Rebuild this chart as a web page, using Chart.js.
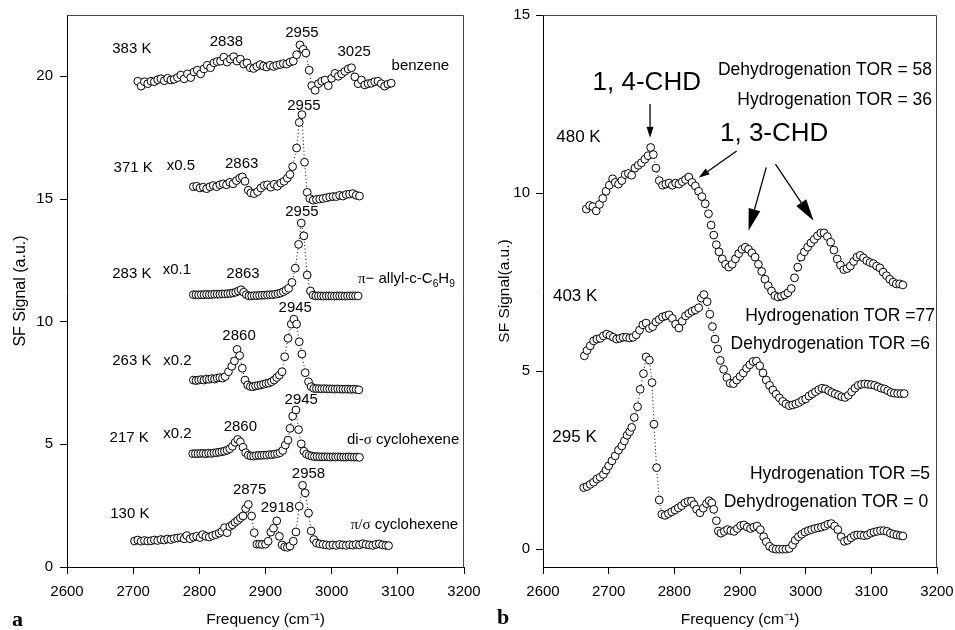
<!DOCTYPE html>
<html><head><meta charset="utf-8">
<script src="https://cdn.jsdelivr.net/npm/chart.js@4.4.0/dist/chart.umd.min.js"></script>
<style>
html,body{margin:0;padding:0;background:#fff;width:955px;height:630px;overflow:hidden;position:relative}
#ca{position:absolute;left:0;top:0}
#cb{position:absolute;left:480px;top:0}
.lbl{position:absolute;font-family:"Liberation Serif","Times New Roman",serif;font-weight:bold;font-size:22px;line-height:22px;color:#000}
</style></head><body>
<canvas id="ca" width="480" height="630"></canvas>
<canvas id="cb" width="475" height="630"></canvas>
<div class="lbl" style="left:12px;top:608px">a</div>
<div class="lbl" style="left:497px;top:606px">b</div>
<script>
// ---------- Panel a data (frequency cm-1, SF signal a.u.) ----------
const f383 = [2707,2712,2717,2722,2727,2732,2737,2742,2747,2752,
  2757,2762,2767,2772,2777,2782,2787,2792,2797,2802,
  2807,2812,2817,2822,2827,2832,2837,2842,2847,2852,
  2857,2862,2867,2872,2877,2882,2887,2892,2897,2902,
  2907,2912,2917,2922,2927,2932,2937,2942,2947,2952,
  2957,2961,2966,2970,2975,2980,2985,2990,2995,3000,
  3005,3010,3015,3020,3025,3030,3035,3040,3045,3050,
  3055,3060,3065,3070,3075,3080,3085,3090];
const s383 = [19.80,19.60,19.78,19.70,19.80,19.78,19.86,19.90,19.82,19.92,
  19.85,19.88,19.95,20.05,19.90,20.10,19.95,20.18,20.25,20.10,
  20.30,20.45,20.35,20.55,20.60,20.62,20.78,20.58,20.70,20.80,
  20.62,20.70,20.50,20.55,20.35,20.32,20.40,20.48,20.42,20.38,
  20.45,20.40,20.45,20.48,20.52,20.50,20.58,20.62,20.88,21.28,
  21.10,20.95,20.25,19.62,19.43,19.70,19.80,19.85,19.62,19.92,
  20.12,20.00,20.10,20.20,20.30,20.35,19.98,19.70,19.85,19.65,
  19.70,19.72,19.78,19.80,19.70,19.60,19.68,19.72];

const f371 = [2791,2796,2801,2806,2811,2816,2821,2826,2831,2836,
  2841,2846,2851,2856,2861,2865,2869,2874,2878,2883,
  2888,2893,2898,2903,2908,2913,2918,2923,2928,2933,
  2937,2941,2947,2951,2955,2959,2963,2967,2972,2977,
  2982,2987,2992,2997,3002,3007,3012,3017,3022,3027,
  3032,3037,3042];
const s371 = [15.50,15.52,15.45,15.48,15.42,15.50,15.55,15.50,15.58,15.62,
  15.58,15.68,15.62,15.75,15.85,15.90,15.72,15.36,15.25,15.22,
  15.30,15.45,15.55,15.58,15.48,15.60,15.52,15.65,15.72,15.85,
  16.00,16.32,17.08,18.12,18.44,16.50,15.27,15.02,14.95,14.98,
  15.00,15.02,15.05,15.08,15.10,15.10,15.15,15.12,15.18,15.20,
  15.22,15.15,15.12];

const f283 = [2791,2795,2799,2803,2807,2811,2815,2819,2823,2827,
  2831,2835,2839,2843,2847,2851,2855,2859,2863,2867,
  2871,2875,2879,2883,2887,2891,2895,2899,2903,2907,
  2911,2915,2919,2923,2927,2931,2935,2940,2945,2950,
  2954,2958,2963,2968,2972,2976,2980,2984,2988,2992,
  2996,3000,3004,3008,3012,3016,3020,3024,3028,3032,
  3036,3040];
const s283 = [11.10,11.10,11.09,11.10,11.10,11.11,11.10,11.11,11.12,11.12,
  11.12,11.13,11.13,11.14,11.15,11.17,11.20,11.25,11.30,11.20,
  11.10,11.05,11.05,11.06,11.06,11.07,11.08,11.08,11.09,11.10,
  11.10,11.12,11.14,11.17,11.22,11.28,11.36,11.60,12.18,13.15,
  14.02,13.50,11.90,11.25,11.08,11.05,11.05,11.05,11.04,11.05,
  11.05,11.05,11.04,11.05,11.05,11.05,11.04,11.05,11.05,11.05,
  11.05,11.05];

const f263 = [2791,2795,2799,2803,2807,2811,2815,2819,2823,2827,
  2831,2835,2839,2844,2849,2853,2857,2861,2865,2869,
  2873,2877,2881,2885,2889,2893,2897,2901,2905,2909,
  2913,2917,2921,2925,2929,2934,2939,2943,2947,2951,
  2955,2960,2965,2969,2973,2977,2981,2985,2989,2993,
  2997,3001,3005,3009,3013,3017,3021,3025,3029,3033,
  3037,3041];
const s263 = [7.62,7.60,7.62,7.64,7.62,7.66,7.65,7.68,7.66,7.70,
  7.72,7.70,7.76,7.96,8.18,8.40,8.87,8.62,8.10,7.62,
  7.42,7.36,7.35,7.38,7.40,7.42,7.45,7.48,7.50,7.55,
  7.62,7.72,7.82,7.96,8.57,9.32,9.90,10.10,9.90,9.18,
  8.68,7.92,7.55,7.35,7.28,7.27,7.27,7.26,7.27,7.26,
  7.26,7.26,7.25,7.26,7.25,7.25,7.25,7.25,7.24,7.25,
  7.24,7.22];

const f217 = [2790,2794,2798,2802,2806,2810,2814,2818,2822,2826,
  2830,2834,2838,2842,2846,2850,2854,2858,2862,2866,
  2870,2874,2878,2882,2886,2890,2894,2898,2902,2906,
  2910,2914,2918,2922,2926,2930,2934,2937,2941,2946,
  2950,2954,2958,2962,2966,2970,2974,2978,2982,2986,
  2990,2994,2998,3002,3006,3010,3014,3018,3022,3026,
  3030,3034,3038,3042];
const s217 = [4.62,4.62,4.62,4.63,4.63,4.62,4.64,4.63,4.65,4.66,
  4.68,4.70,4.72,4.76,4.82,4.92,5.08,5.20,5.10,4.88,
  4.66,4.56,4.53,4.52,4.54,4.55,4.55,4.56,4.56,4.58,
  4.58,4.60,4.62,4.66,4.75,4.97,5.17,5.65,6.15,6.40,
  5.60,5.02,4.72,4.60,4.55,4.52,4.50,4.50,4.49,4.49,
  4.49,4.49,4.48,4.49,4.48,4.49,4.48,4.48,4.48,4.49,
  4.48,4.48,4.48,4.47];

const f130 = [2702,2707,2712,2717,2722,2727,2732,2737,2742,2747,
  2752,2757,2762,2767,2772,2777,2781,2786,2791,2796,
  2801,2805,2810,2815,2820,2825,2830,2834,2838,2842,
  2846,2850,2854,2858,2862,2866,2870,2874,2879,2883,
  2887,2891,2895,2900,2904,2908,2912,2917,2921,2925,
  2929,2933,2937,2942,2946,2951,2956,2960,2965,2969,
  2973,2977,2982,2987,2992,2997,3002,3007,3012,3017,
  3022,3027,3032,3037,3042,3047,3052,3057,3062,3067,
  3072,3077,3082,3086];
const s130 = [1.06,1.10,1.05,1.08,1.06,1.07,1.10,1.08,1.12,1.10,
  1.14,1.12,1.16,1.18,1.20,1.15,1.28,1.15,1.22,1.25,
  1.20,1.32,1.25,1.22,1.28,1.32,1.38,1.45,1.60,1.40,
  1.65,1.72,1.82,1.90,2.00,2.08,2.38,2.55,2.08,1.40,
  0.93,0.93,0.92,0.93,1.05,1.42,1.58,1.88,1.25,0.90,
  0.82,0.80,0.85,1.05,1.43,2.48,3.33,3.02,2.20,1.47,
  1.12,0.98,0.94,0.92,0.90,0.88,0.90,0.88,0.92,0.90,
  0.88,0.91,0.89,0.92,0.90,0.95,0.92,0.90,0.88,0.92,
  0.94,0.90,0.88,0.87];

// ---------- Panel b data ----------
const f480 = [2666,2671,2676,2681,2686,2691,2696,2701,2706,2710,
  2715,2720,2725,2730,2735,2740,2745,2750,2755,2760,
  2764,2768,2772,2777,2782,2787,2792,2797,2802,2807,
  2812,2817,2822,2827,2832,2837,2842,2847,2852,2856,
  2860,2864,2868,2873,2878,2883,2888,2893,2898,2903,
  2908,2913,2918,2923,2928,2933,2938,2943,2948,2953,
  2958,2963,2968,2973,2978,2983,2988,2993,2998,3003,
  3008,3013,3018,3023,3028,3033,3038,3043,3048,3053,
  3058,3063,3068,3073,3078,3083,3088,3093,3098,3103,
  3108,3113,3118,3123,3128,3133,3138,3143,3148];
const s480 = [9.55,9.65,9.62,9.50,9.68,9.85,10.05,10.22,10.40,10.30,
  10.25,10.35,10.52,10.55,10.50,10.70,10.78,10.85,10.95,11.05,
  11.28,11.08,10.70,10.35,10.22,10.25,10.28,10.22,10.28,10.25,
  10.32,10.38,10.45,10.30,10.20,10.05,9.90,9.70,9.42,9.10,
  8.82,8.55,8.35,8.15,8.00,7.92,8.00,8.15,8.30,8.42,
  8.48,8.42,8.32,8.20,8.00,7.80,7.58,7.40,7.25,7.12,
  7.08,7.10,7.14,7.20,7.32,7.62,7.92,8.20,8.35,8.48,
  8.60,8.70,8.80,8.88,8.88,8.78,8.62,8.40,8.15,7.98,
  7.85,7.88,7.95,8.08,8.20,8.25,8.18,8.10,8.05,8.02,
  7.95,7.90,7.78,7.68,7.58,7.50,7.45,7.45,7.42];

const f403 = [2663,2667,2672,2677,2682,2687,2692,2697,2702,2707,
  2712,2717,2722,2727,2732,2737,2742,2747,2752,2757,
  2762,2767,2772,2777,2782,2787,2792,2797,2802,2807,
  2812,2817,2822,2827,2832,2837,2841,2845,2850,2854,
  2858,2862,2866,2870,2875,2880,2885,2890,2895,2900,
  2905,2910,2915,2920,2925,2930,2935,2940,2945,2950,
  2955,2960,2965,2970,2975,2980,2985,2990,2995,3000,
  3005,3010,3015,3020,3025,3030,3035,3040,3045,3050,
  3055,3060,3065,3070,3075,3080,3085,3090,3095,3100,
  3105,3110,3115,3120,3125,3130,3135,3140,3145,3150];
const s403 = [5.43,5.58,5.71,5.85,5.90,5.92,5.99,6.04,6.00,5.95,
  5.90,5.92,5.95,5.95,5.93,5.95,6.02,6.15,6.30,6.35,
  6.20,6.25,6.38,6.45,6.52,6.55,6.58,6.48,6.32,6.21,
  6.40,6.55,6.62,6.68,6.72,6.78,7.05,7.15,6.95,6.60,
  6.25,5.90,5.62,5.30,5.05,4.82,4.66,4.65,4.75,4.85,
  4.95,5.08,5.18,5.27,5.28,5.15,4.95,4.75,4.60,4.47,
  4.35,4.25,4.15,4.08,4.03,4.05,4.08,4.12,4.18,4.22,
  4.30,4.36,4.42,4.48,4.52,4.50,4.45,4.40,4.36,4.32,
  4.28,4.26,4.32,4.42,4.52,4.60,4.63,4.64,4.63,4.62,
  4.60,4.56,4.52,4.50,4.45,4.40,4.38,4.37,4.37,4.37];

const f295 = [2662,2667,2672,2677,2682,2687,2692,2696,2700,2705,
  2710,2715,2720,2724,2728,2732,2735,2739,2744,2748,
  2753,2757,2762,2766,2769,2773,2777,2781,2786,2791,
  2796,2801,2806,2811,2816,2821,2826,2830,2834,2839,
  2844,2849,2853,2857,2860,2864,2867,2871,2876,2881,
  2886,2891,2896,2901,2906,2911,2916,2921,2926,2931,
  2936,2940,2945,2950,2955,2960,2965,2970,2975,2980,
  2984,2989,2994,2999,3004,3009,3014,3019,3024,3029,
  3034,3039,3044,3049,3054,3059,3064,3069,3074,3079,
  3084,3089,3094,3099,3104,3109,3114,3119,3124,3129,
  3134,3139,3144,3148];
const s295 = [1.73,1.76,1.82,1.88,1.97,2.02,2.10,2.22,2.34,2.48,
  2.62,2.78,2.90,3.04,3.20,3.30,3.42,3.70,4.00,4.49,
  4.93,5.40,5.31,4.68,3.51,2.29,1.38,0.98,0.95,1.00,
  1.05,1.10,1.16,1.22,1.30,1.34,1.35,1.25,1.12,1.02,
  1.15,1.28,1.36,1.30,1.12,0.80,0.51,0.45,0.50,0.55,
  0.52,0.50,0.58,0.66,0.68,0.62,0.58,0.62,0.65,0.55,
  0.35,0.21,0.08,0.02,0.00,0.00,0.00,0.00,0.02,0.12,
  0.25,0.35,0.42,0.48,0.52,0.55,0.58,0.60,0.62,0.65,
  0.70,0.72,0.65,0.55,0.35,0.22,0.25,0.32,0.38,0.40,
  0.40,0.38,0.40,0.45,0.48,0.50,0.52,0.52,0.50,0.45,
  0.42,0.40,0.38,0.37];

const xTicks = [2600,2700,2800,2900,3000,3100,3200];
const yTicksA = [0,5,10,15,20];
const yTicksB = [0,5,10,15];

// ---------- Annotation texts (data coordinates) ----------
const SANS = '"Liberation Sans", Arial, Helvetica, sans-serif';
const SERIF = '"Liberation Serif", "Times New Roman", serif';
const annA = [
  {t:'383 K', x:2698, y:21.13}, {t:'2838', x:2841, y:21.41}, {t:'2955', x:2955, y:21.78},
  {t:'3025', x:3034, y:20.98}, {t:'benzene', x:3134, y:20.43},
  {t:'2955', x:2958, y:18.80}, {t:'371 K', x:2700, y:16.27}, {t:'x0.5', x:2772, y:16.35}, {t:'2863', x:2864, y:16.44},
  {t:'2955', x:2955, y:14.49}, {t:'283 K', x:2698, y:11.95}, {t:'x0.1', x:2766, y:12.11}, {t:'2863', x:2866, y:11.95},
  {segs:[{t:'π',serif:1},{t:'− allyl-c-C'},{t:'6',sub:1},{t:'H'},{t:'9',sub:1}], x:3113, y:11.73},
  {t:'2945', x:2945, y:10.55}, {t:'263 K', x:2698, y:8.41}, {t:'x0.2', x:2767, y:8.41}, {t:'2860', x:2860, y:9.42},
  {t:'2945', x:2954, y:6.80}, {t:'217 K', x:2694, y:5.28}, {t:'x0.2', x:2767, y:5.42}, {t:'2860', x:2862, y:5.71},
  {segs:[{t:'di-'},{t:'σ',serif:1},{t:' cyclohexene'}], x:3108, y:5.17},
  {t:'2958', x:2965, y:3.81}, {t:'2875', x:2876, y:3.16}, {t:'2918', x:2918, y:2.42}, {t:'130 K', x:2695, y:2.18},
  {segs:[{t:'π/σ',serif:1},{t:' cyclohexene'}], x:3110, y:1.70}
];
const annB = [
  {t:'1, 4-CHD', x:2758, y:13.1, size:26}, {t:'1, 3-CHD', x:2952, y:11.66, size:26},
  {t:'480 K', x:2654, y:11.56, size:17}, {t:'403 K', x:2649, y:7.11, size:17}, {t:'295 K', x:2648, y:3.15, size:17},
  {t:'Dehydrogenation TOR = 58', x:3192.5, y:13.45, size:17.5, align:'right'},
  {t:'Hydrogenation TOR = 36', x:3192.5, y:12.61, size:17.5, align:'right'},
  {t:'Hydrogenation TOR =77', x:3197, y:6.55, size:17.5, align:'right'},
  {t:'Dehydrogenation TOR =6', x:3189.5, y:5.76, size:17.5, align:'right'},
  {t:'Hydrogenation TOR =5', x:3189.5, y:2.12, size:17.5, align:'right'},
  {t:'Dehydrogenation TOR = 0', x:3186.5, y:1.31, size:17.5, align:'right'}
];
const arrowsB = [
  {x1:2763, y1:12.5, x2:2763, y2:11.55, L:11, W:3.5},
  {x1:2895, y1:11.18, x2:2837, y2:10.43, L:11, W:3.5},
  {x1:2940, y1:10.72, x2:2913, y2:8.94, L:22, W:6},
  {x1:2954, y1:10.81, x2:3012, y2:9.22, L:22, W:6}
];

function ds(f, s) {
  return {
    data: f.map((x, i) => ({x: x, y: s[i]})),
    showLine: true, borderColor: '#000', borderWidth: 1, borderDash: [1, 2.5],
    pointRadius: 3.9, pointBackgroundColor: '#fff', pointBorderColor: '#000', pointBorderWidth: 1,
    tension: 0, fill: false
  };
}

function drawRich(ctx, segs, x, y, align, size) {
  let w = 0;
  const parts = segs.map(s => {
    const fs = s.sub ? size * 0.68 : size;
    const font = fs + 'px ' + (s.serif ? SERIF : SANS);
    ctx.font = font;
    const mw = ctx.measureText(s.t).width;
    w += mw;
    return {t: s.t, font: font, mw: mw, sub: s.sub};
  });
  let sx = align === 'right' ? x - w : (align === 'left' ? x : x - w / 2);
  ctx.textAlign = 'left'; ctx.textBaseline = 'middle';
  parts.forEach(p => { ctx.font = p.font; ctx.fillText(p.t, sx, y + (p.sub ? size * 0.32 : 0)); sx += p.mw; });
}

function annoPlugin(anns, arrows) {
  return {
    id: 'annos',
    beforeDatasetsDraw(chart) {
      const {ctx, chartArea: a} = chart;
      ctx.save();
      ctx.strokeStyle = '#444'; ctx.lineWidth = 1;
      ctx.beginPath();
      ctx.moveTo(a.left, a.top + 0.5); ctx.lineTo(a.right - 0.5, a.top + 0.5); ctx.lineTo(a.right - 0.5, a.bottom);
      ctx.stroke();
      ctx.restore();
    },
    afterDatasetsDraw(chart) {
      const {ctx, scales: {x: sx, y: sy}} = chart;
      ctx.save();
      ctx.fillStyle = '#000';
      anns.forEach(a => {
        const px = sx.getPixelForValue(a.x), py = sy.getPixelForValue(a.y);
        const segs = a.segs || [{t: a.t}];
        drawRich(ctx, segs, px, py, a.align || 'center', a.size || 15);
      });
      (arrows || []).forEach(r => {
        const x1 = sx.getPixelForValue(r.x1), y1 = sy.getPixelForValue(r.y1);
        const x2 = sx.getPixelForValue(r.x2), y2 = sy.getPixelForValue(r.y2);
        const ang = Math.atan2(y2 - y1, x2 - x1);
        const bx = x2 - r.L * Math.cos(ang), by = y2 - r.L * Math.sin(ang);
        ctx.strokeStyle = '#000'; ctx.lineWidth = 1.3;
        ctx.beginPath(); ctx.moveTo(x1, y1); ctx.lineTo(bx, by); ctx.stroke();
        ctx.beginPath();
        ctx.moveTo(x2, y2);
        ctx.lineTo(bx + r.W * Math.sin(ang), by - r.W * Math.cos(ang));
        ctx.lineTo(bx - r.W * Math.sin(ang), by + r.W * Math.cos(ang));
        ctx.closePath(); ctx.fill();
      });
      ctx.restore();
    }
  };
}

function makeOptions(cfg) {
  return {
    responsive: false, animation: false, devicePixelRatio: 1,
    layout: {padding: {left: 0, right: cfg.padR, top: 15, bottom: 0}},
    plugins: {legend: {display: false}, tooltip: {enabled: false}},
    scales: {
      x: {
        type: 'linear', min: 2600, max: 3200,
        afterBuildTicks: s => { s.ticks = xTicks.map(v => ({value: v})); },
        ticks: {color: '#000', font: {size: 15, family: SANS}, padding: 9, maxRotation: 0, autoSkip: false, callback: v => String(v)},
        grid: {display: true, drawOnChartArea: false, drawTicks: true, tickLength: 7, color: '#000', tickColor: '#000'},
        border: {display: true, color: '#000', width: 1},
        title: {display: true, text: 'Frequency (cm⁻¹)', color: '#000', font: {size: 15.5, family: SANS}, padding: {top: 0, bottom: 1}},
        afterFit: s => { s.height = 63; s.paddingLeft = 0; s.paddingRight = 0; }
      },
      y: {
        type: 'linear', min: cfg.ymin, max: cfg.ymax,
        afterBuildTicks: s => { s.ticks = cfg.yticks.map(v => ({value: v})); },
        ticks: {color: '#000', font: {size: 15, family: SANS}, padding: cfg.ypad, callback: v => String(v)},
        grid: {display: true, drawOnChartArea: false, drawTicks: true, tickLength: 7, color: '#000', tickColor: '#000'},
        border: {display: true, color: '#000', width: 1},
        title: {display: true, text: cfg.ytitle, color: '#000', font: {size: cfg.ytsize, family: SANS}, padding: {top: cfg.ytpad, bottom: 0}},
        afterFit: s => { s.width = cfg.yw; s.paddingTop = 0; s.paddingBottom = 0; }
      }
    }
  };
}

new Chart(document.getElementById('ca'), {
  type: 'scatter',
  data: {datasets: [ds(f383, s383), ds(f371, s371), ds(f283, s283), ds(f263, s263), ds(f217, s217), ds(f130, s130)]},
  options: makeOptions({padR: 16, ymin: 0, ymax: 22.5, yticks: yTicksA, yw: 67, ypad: 7, ytitle: 'SF Signal (a.u.)', ytsize: 16, ytpad: 10.5}),
  plugins: [annoPlugin(annA, [])]
});

new Chart(document.getElementById('cb'), {
  type: 'scatter',
  data: {datasets: [ds(f480, s480), ds(f403, s403), ds(f295, s295)]},
  options: makeOptions({padR: 18, ymin: -0.5, ymax: 15, yticks: yTicksB, yw: 63, ypad: 6, ytitle: 'SF Signal(a.u.)', ytsize: 15.5, ytpad: 15}),
  plugins: [annoPlugin(annB, arrowsB)]
});
</script></body></html>
